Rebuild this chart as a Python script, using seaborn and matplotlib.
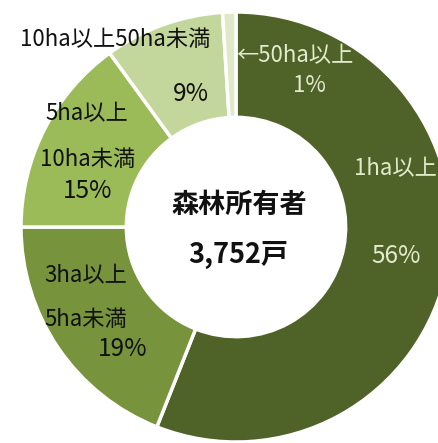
import matplotlib
matplotlib.use("Agg")
import matplotlib.pyplot as plt
import seaborn as sns

sns.set_theme(style="white")
plt.rcParams["font.family"] = ["Noto Sans CJK JP", "DejaVu Sans"]

# 森林所有者の規模別内訳（戸数割合）
categories = ["1ha以上", "3ha以上5ha未満", "5ha以上10ha未満", "10ha以上50ha未満", "50ha以上"]
shares = [56, 19, 15, 9, 1]
colors = ["#4f6228", "#77933c", "#9bbb59", "#c3d69b", "#dfe9c8"]
total_label = "3,752戸"
title_label = "森林所有者"

W, H, DPI = 438, 443, 100
fig = plt.figure(figsize=(W / DPI, H / DPI), dpi=DPI)
ax = fig.add_axes([0, 0, 1, 1])

ax.pie(shares, colors=colors, startangle=90, counterclock=False,
       radius=1.0,
       wedgeprops=dict(width=0.49, edgecolor="white", linewidth=2.5))

# ring centre at (236, 227) px, outer radius 215 px
cx, cy, R = 236, 227, 215
ax.set_aspect("auto")
ax.set_xlim(-cx / R, (W - cx) / R)
ax.set_ylim((cy - H) / R, cy / R)
ax.axis("off")


def put(px, py, s, color="#111111", size=16, ha="center", weight="normal"):
    ax.text((px - cx) / R, (cy - py) / R, s, color=color, fontsize=size,
            ha=ha, va="center", fontweight=weight)


light = "#e2ebcd"
pct = 17.5

put(20, 40, "10ha以上50ha未満", ha="left")
put(191, 94, f"{shares[3]}%", size=pct)

put(236, 56, "←" + categories[4], color=light, ha="left")
put(309, 86, f"{shares[4]}%", color=light)

put(437, 169, categories[0], color=light, ha="right")
put(396, 256, f"{shares[0]}%", color=light, size=pct)

put(87, 114, "5ha以上")
put(88, 159, "10ha未満")
put(88, 191, f"{shares[2]}%", size=pct)

put(86, 276, "3ha以上")
put(86, 320, "5ha未満")
put(123, 349, f"{shares[1]}%", size=pct)

put(239, 205, title_label, size=19.5, weight="bold")
put(238, 255, total_label, size=19.5, weight="bold")

fig.savefig("out.png", dpi=DPI, facecolor="white")
